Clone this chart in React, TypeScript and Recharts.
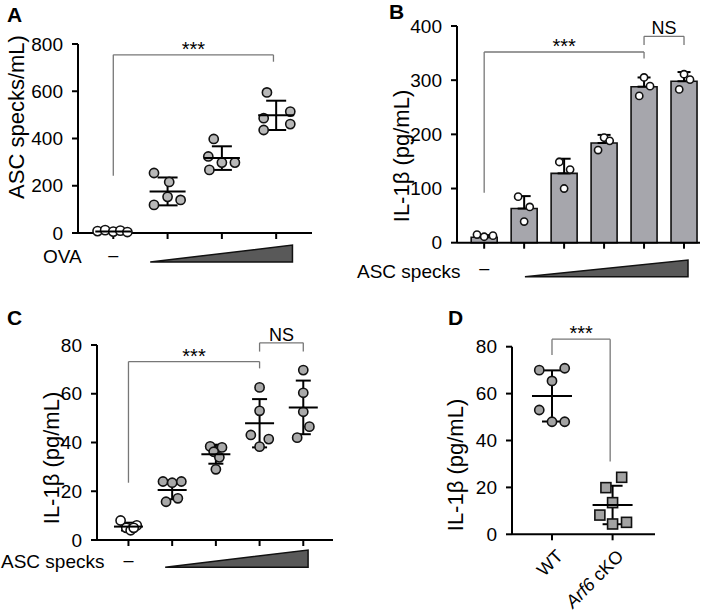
import React from "react"
import {
  ComposedChart,
  Scatter,
  Bar,
  XAxis,
  YAxis,
  ErrorBar,
  ReferenceLine,
  ReferenceArea,
} from "recharts"

const FONT = "'Liberation Sans', Arial, Helvetica, sans-serif"

// ---- A: ASC specks/mL, OVA dose ----
const aTicks = [0, 200, 400, 600, 800]
const aGroups = [0, 1, 2, 3]
const aCtrlX = [-0.29, -0.15, 0, 0.13, 0.26]
const aCtrlY = [8, 12, 6, 10, 4]
const aPointX = [0.75, 1.03, 0.75, 1.0, 1.24, 1.85, 1.75, 2.0, 2.24, 1.77, 2.83, 2.77, 3.26, 2.77, 3.26]
const aPointY = [254, 216, 119, 153, 140, 398, 324, 298, 298, 267, 595, 486, 514, 436, 461]
const aMean = [6, 176, 317, 498]
const aSd = [4, 59, 50, 62]

// ---- B: IL-1b with ASC specks (bars) ----
const bTicks = [0, 100, 200, 300, 400]
const bGroups = [0, 1, 2, 3, 4, 5]
const bMean = [10, 63, 128, 184, 288, 298]
const bSd = [4, 23, 27, 15, 17, 17]
const bPointX = [-0.18, 0, 0.22, 0.85, 1.14, 1.0, 1.88, 2.15, 2.0, 2.85, 3.0, 3.14, 3.88, 4.0, 4.15, 4.88, 5.0, 5.15]
const bPointY = [15, 11, 13, 85, 66, 39, 149, 135, 100, 171, 194, 188, 271, 305, 289, 283, 311, 301]

// ---- C: IL-1b with ASC specks (dots) ----
const cTicks = [0, 20, 40, 60, 80]
const cGroups = [0, 1, 2, 3, 4]
const cCtrlX = [-0.18, 0.19, -0.05, 0.05, 0.12]
const cCtrlY = [8, 6, 5, 4, 5]
const cPointX = [0.79, 1.0, 1.21, 0.86, 1.13, 1.87, 2.14, 1.95, 2.08, 2.0, 3.0, 3.0, 2.8, 3.21, 3.0, 4.0, 4.0, 4.0, 4.14, 3.86]
const cPointY = [24, 23.5, 24, 15.7, 17.1, 38.4, 38, 36.2, 33.9, 29, 62.6, 53, 43.1, 41.4, 38.3, 69.7, 60.4, 52.6, 46.5, 42]
const cMean = [5.5, 20.5, 35.2, 47.9, 54.4]
const cSd = [1.6, 3.8, 3.9, 9.9, 11]

// ---- D: WT vs Arf6 cKO ----
const dTicks = [0, 20, 40, 60, 80]
const dCategories = ["WT", "Arf6 cKO"]
const dWtX = [-0.21, 0.21, 0, -0.21, 0, 0.21]
const dWtY = [70, 70.8, 65.4, 53, 48, 48]
const dKoX = [1.15, 0.89, 1.0, 0.79, 1.0, 1.23]
const dKoY = [24.3, 19.9, 13.5, 8.2, 4.4, 5.1]
const dMean = [59, 12.5]
const dSd = [10.9, 8.2]

const zip = (xs: number[], ys: number[]) => xs.map((x, i) => ({ x, y: ys[i] }))
const summary = (xs: number[], mean: number[], sd: number[]) =>
  xs.map((x, i) => ({ x, y: mean[i], sd: sd[i] }))

const axisProps = {
  stroke: "#000",
  strokeWidth: 2,
  tickSize: 6,
  tick: { fill: "#000", fontSize: 19 },
}

const dot = (fill: string, r = 4.6) => (p: any) => (
  <circle cx={p.cx} cy={p.cy} r={r} fill={fill} stroke="#111" strokeWidth={1.6} />
)
const square = (fill: string) => (p: any) => (
  <rect x={p.cx - 5} y={p.cy - 5} width={10} height={10} fill={fill} stroke="#111" strokeWidth={1.6} />
)
const meanLine = (w: number) => (p: any) => (
  <line x1={p.cx - w / 2} x2={p.cx + w / 2} y1={p.cy} y2={p.cy} stroke="#000" strokeWidth={2} />
)

const Wedge = (p: any) => (
  <polygon
    points={`${p.x},${p.y + p.height} ${p.x + p.width},${p.y + p.height} ${p.x + p.width},${p.y}`}
    fill="#595959"
    stroke="#111"
    strokeWidth={1.5}
  />
)

// bracket: horizontal line at top with two legs going down
function bracket(key: string, x1: number, x2: number, top: number, leftEnd: number, rightEnd: number, text: string, off = 0) {
  const common = { stroke: "#777", strokeWidth: 1.3, ifOverflow: "visible" as const }
  return [
    <ReferenceLine key={key + "h"} segment={[{ x: x1, y: top }, { x: x2, y: top }]} {...common}
      label={{ value: text, position: "top", offset: off, fontSize: text === "NS" ? 18 : 20, fill: "#000" }} />,
    <ReferenceLine key={key + "l"} segment={[{ x: x1, y: leftEnd }, { x: x1, y: top }]} {...common} />,
    <ReferenceLine key={key + "r"} segment={[{ x: x2, y: rightEnd }, { x: x2, y: top }]} {...common} />,
  ]
}

const YTitle = ({ lx, ly, text }: { lx: number; ly: number; text: string }) => (
  <text x={lx} y={ly} transform={`rotate(-90, ${lx}, ${ly})`} textAnchor="middle" dominantBaseline="central" fontSize={22} fill="#000">
    {text}
  </text>
)
const PlainText = ({ lx, ly, text }: { lx: number; ly: number; text: string }) => (
  <text x={lx} y={ly} fontSize={19} fill="#000">{text}</text>
)

const dashTick = (dy: number) => (p: any) =>
  p.payload.value === 0 ? (
    <text x={p.x} y={p.y + dy} textAnchor="middle" dominantBaseline="central" fontSize={18} fill="#000">–</text>
  ) : <g />

const GenotypeTick = (p: any) => {
  const label = dCategories[p.payload.value]
  return (
    <g transform={`translate(${p.x + 3},${p.y + 6})`}>
      <text textAnchor="end" transform="rotate(-45)" dy="0.71em" fontSize={18} fill="#000">
        {label === "Arf6 cKO" ? (<><tspan fontStyle="italic">Arf6</tspan> cKO</>) : label}
      </text>
    </g>
  )
}

function PanelA() {
  return (
    <ComposedChart width={340} height={300} margin={{ top: 44, right: 28, bottom: 37, left: 20 }}>
      <XAxis type="number" dataKey="x" domain={[-0.65, 3.66]} ticks={aGroups} allowDataOverflow height={30}
        {...axisProps} tick={dashTick(14)}
        label={<PlainText lx={43} ly={263} text="OVA" />} />
      <YAxis type="number" domain={[0, 800]} ticks={aTicks} width={58} tickMargin={9} {...axisProps}
        label={<YTitle lx={16} ly={117} text="ASC specks/mL)" />} />
      <ReferenceArea x1={0.68} x2={3.3} y1={-123} y2={-51} ifOverflow="visible" shape={Wedge} />
      {bracket("a1", 0, 2.95, 754, 242, 725, "***", -1)}
      <Scatter data={zip(aCtrlX, aCtrlY)} dataKey="y" isAnimationActive={false} shape={dot("#fff")} />
      <Scatter data={zip(aPointX, aPointY)} dataKey="y" isAnimationActive={false} shape={dot("#b8b8b8")} />
      <Scatter data={summary(aGroups, aMean, aSd)} dataKey="y" isAnimationActive={false} shape={meanLine(36)}>
        <ErrorBar dataKey="sd" direction="y" width={10} stroke="#000" strokeWidth={2} />
      </Scatter>
    </ComposedChart>
  )
}

function PanelB() {
  const bars = bGroups.map((x, i) => ({ x, mean: bMean[i], err: [0, bSd[i]] }))
  const domain: [number, number] = [-0.68, 5.4]
  return (
    <ComposedChart width={362} height={300} data={bars} margin={{ top: 26, right: 12, bottom: 27.3, left: 47 }}>
      <XAxis type="number" dataKey="x" domain={domain} ticks={bGroups} allowDataOverflow height={30}
        {...axisProps} tick={dashTick(17)}
        label={<PlainText lx={7} ly={278} text="ASC specks" />} />
      {/* hidden twin axis for the jittered dots, so they do not shrink the bar band */}
      <XAxis xAxisId="pts" type="number" dataKey="x" domain={domain} allowDataOverflow hide />
      <YAxis type="number" domain={[0, 400]} ticks={bTicks} width={60} tickMargin={9} {...axisProps}
        label={<YTitle lx={51} ly={156} text="IL-1β (pg/mL)" />} />
      <ReferenceArea x1={1.02} x2={5.1} y1={-62.7} y2={-31.9} ifOverflow="visible" shape={Wedge} />
      {bracket("b1", 0, 4, 352, 92, 340, "***", -1)}
      {bracket("b2", 4, 5, 381, 365, 365, "NS", 2)}
      <Bar dataKey="mean" barSize={26} fill="#a6a6ac" stroke="#111" strokeWidth={1.6} isAnimationActive={false}>
        <ErrorBar dataKey="err" direction="y" width={6.5} stroke="#000" strokeWidth={2} />
      </Bar>
      <Scatter xAxisId="pts" data={zip(bPointX, bPointY)} dataKey="y" isAnimationActive={false} shape={dot("#fff", 3.6)} />
    </ComposedChart>
  )
}

function PanelC() {
  return (
    <ComposedChart width={340} height={316} margin={{ top: 45, right: 7, bottom: 46, left: 20 }}>
      <XAxis type="number" dataKey="x" domain={[-0.72, 4.68]} ticks={cGroups} allowDataOverflow height={30}
        {...axisProps} tick={dashTick(12)}
        label={<PlainText lx={1} ly={268} text="ASC specks" />} />
      <YAxis type="number" domain={[0, 80]} ticks={cTicks} width={77} tickMargin={9} {...axisProps}
        label={<YTitle lx={51} ly={158} text="IL-1β (pg/mL)" />} />
      <ReferenceArea x1={0.84} x2={4.11} y1={-11.2} y2={-4.1} ifOverflow="visible" shape={Wedge} />
      {bracket("c1", 0, 3, 73.2, 23.5, 70.4, "***", -1)}
      {bracket("c2", 3, 4, 80.9, 77.3, 77.3, "NS", 2)}
      <Scatter data={zip(cCtrlX, cCtrlY)} dataKey="y" isAnimationActive={false} shape={dot("#fff")} />
      <Scatter data={zip(cPointX, cPointY)} dataKey="y" isAnimationActive={false} shape={dot("#a9a9a9")} />
      <Scatter data={summary(cGroups, cMean, cSd)} dataKey="y" isAnimationActive={false} shape={meanLine(29)}>
        <ErrorBar dataKey="sd" direction="y" width={7.5} stroke="#000" strokeWidth={2} />
      </Scatter>
    </ComposedChart>
  )
}

function PanelD() {
  return (
    <ComposedChart width={312} height={316} margin={{ top: 46.7, right: 57, bottom: 11.7, left: 40 }}>
      <XAxis type="number" dataKey="x" domain={[-0.66, 1.7]} ticks={[0, 1]} allowDataOverflow height={70}
        {...axisProps} tick={GenotypeTick} />
      <YAxis type="number" domain={[0, 80]} ticks={dTicks} width={72} tickMargin={9} {...axisProps}
        label={<YTitle lx={55} ly={165} text="IL-1β (pg/mL)" />} />
      {bracket("d1", 0, 0.96, 83.2, 76.5, 31, "***", -1)}
      <Scatter data={zip(dWtX, dWtY)} dataKey="y" isAnimationActive={false} shape={dot("#a3a3a3")} />
      <Scatter data={zip(dKoX, dKoY)} dataKey="y" isAnimationActive={false} shape={square("#a3a3a3")} />
      <Scatter data={summary([0, 1], dMean, dSd)} dataKey="y" isAnimationActive={false} shape={meanLine(40)}>
        <ErrorBar dataKey="sd" direction="y" width={10} stroke="#000" strokeWidth={2} />
      </Scatter>
    </ComposedChart>
  )
}

const letter = { position: "absolute" as const, fontSize: 21, fontWeight: 700, lineHeight: "21px" }

export default function App() {
  return (
    <div style={{ position: "absolute", left: 0, top: 0, width: 712, height: 616, background: "#fff", fontFamily: FONT }}>
      <div style={{ position: "absolute", left: 0, top: 0 }}><PanelA /></div>
      <div style={{ position: "absolute", left: 350, top: 0 }}><PanelB /></div>
      <div style={{ position: "absolute", left: 0, top: 300 }}><PanelC /></div>
      <div style={{ position: "absolute", left: 400, top: 300 }}><PanelD /></div>
      <div style={{ ...letter, left: 7, top: 4 }}>A</div>
      <div style={{ ...letter, left: 389, top: 1 }}>B</div>
      <div style={{ ...letter, left: 7, top: 307 }}>C</div>
      <div style={{ ...letter, left: 448, top: 307 }}>D</div>
    </div>
  )
}
